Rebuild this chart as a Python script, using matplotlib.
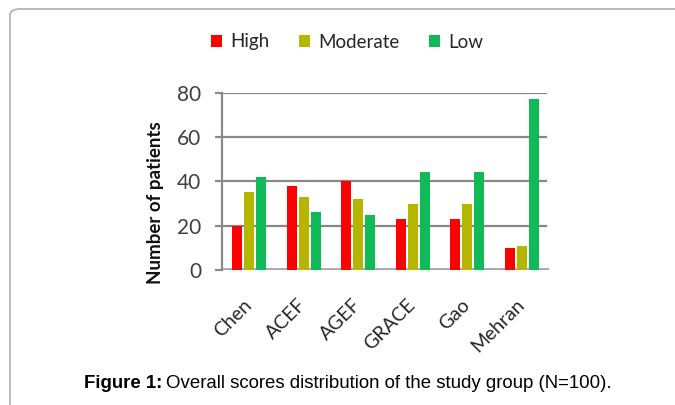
import numpy as np
import matplotlib.pyplot as plt
from matplotlib.patches import Patch, FancyBboxPatch

scores = ['Chen', 'ACEF', 'AGEF', 'GRACE', 'Gao', 'Mehran']
high = [20, 38, 40, 23, 23, 10]
moderate = [35, 33, 32, 30, 30, 11]
low = [42, 26, 25, 44, 44, 77]
series_names = ['High', 'Moderate', 'Low']
colors = ['#ff0000', '#b5b600', '#0fba57']
yticks = [0, 20, 40, 60, 80]

plt.rcParams['font.family'] = ['Lato', 'DejaVu Sans']

fig = plt.figure(figsize=(6.75, 4.05), dpi=100)

# rounded frame around the figure panel
frame = FancyBboxPatch((10 / 675, -0.2), 1.2, 1.2 - 9 / 405,
                       boxstyle='round,pad=0,rounding_size=0.015',
                       transform=fig.transFigure, facecolor='none',
                       edgecolor='#b4b4b4', linewidth=1.3, clip_on=False)
fig.patches.append(frame)

ax = fig.add_axes([222 / 675, 135 / 405, 327 / 675, 177.3 / 405])

x = np.arange(len(scores))
width = 0.19
step = 0.22
for i, (vals, name, c) in enumerate(zip([high, moderate, low], series_names, colors)):
    ax.bar(x + (i - 1) * step, vals, width, color=c, label=name, zorder=3)

ax.set_xlim(-0.5, len(scores) - 0.5)
ax.set_ylim(0, 80)
ax.set_yticks(yticks)
for v in yticks[1:]:
    ax.axhline(v, xmin=0, xmax=0.99, color='#878787', lw=1.6, zorder=1)
ax.axhline(0, xmin=0, xmax=1.0, color='#a8a8a8', lw=3.5, zorder=2)

for s in ['top', 'right', 'bottom']:
    ax.spines[s].set_visible(False)
ax.spines['left'].set_color('#8a8a8a')
ax.spines['left'].set_linewidth(1.6)

ax.tick_params(axis='y', length=5, width=1.6, color='#8a8a8a', pad=10,
               labelsize=15, labelcolor='#404040')
ax.set_xticks(x)
ax.set_xticklabels(scores, rotation=45, ha='right', va='center',
                   rotation_mode='anchor', fontsize=14, color='#262626')
ax.tick_params(axis='x', length=0, pad=23)

fig.text(155 / 675, 1 - 203 / 405, 'Number of patients', rotation=90,
         ha='center', va='center', fontsize=13.5, fontweight='bold',
         color='#111111')

handles = [Patch(facecolor=c, label=n) for c, n in zip(colors, series_names)]
fig.legend(handles=handles, loc='center', bbox_to_anchor=(347 / 675, 1 - 42 / 405),
           ncol=3, frameon=False, fontsize=13.5, handlelength=0.6,
           handleheight=0.6, handletextpad=0.4, columnspacing=1.6,
           labelcolor='#262626')

# caption: bold label followed by regular text
cap_y = 1 - 383 / 405
lead = fig.text(84 / 675, cap_y, 'Figure 1:', fontsize=13.4, fontweight='bold',
                family='Liberation Sans', ha='left', va='center')
fig.canvas.draw()
bb = lead.get_window_extent().transformed(fig.transFigure.inverted())
fig.text(bb.x1 + 4 / 675, cap_y,
         'Overall scores distribution of the study group (N=100).',
         fontsize=13.4, family='Liberation Sans', ha='left', va='center')

fig.savefig('out.png', dpi=100)
